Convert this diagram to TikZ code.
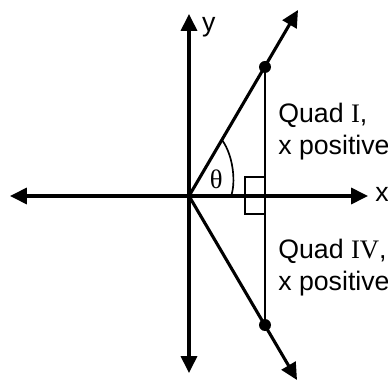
\documentclass[tikz,border=0pt]{standalone}
\usepackage{fontspec}
\setmainfont{Liberation Sans}
\newfontfamily\romfont{Liberation Serif}
\usetikzlibrary{arrows.meta}

\begin{document}
\begin{tikzpicture}[
  ax/.style={line width=2.2pt,-{Triangle[length=0.42cm,width=0.4cm]}},
  thin/.style={line width=1.2pt},
  pt/.style={circle,fill=black,minimum size=0.3cm,inner sep=0pt},
  lbl/.style={font=\fontsize{19}{22}\selectfont,inner sep=0pt,anchor=base west}]
  \useasboundingbox (-4.725,-4.625) rectangle (4.975,4.9);
  % axes
  \coordinate (O) at (0,0);
  \coordinate (xl) at (-4.475,0);
  \coordinate (xr) at (4.475,0);
  \coordinate (yt) at (0,4.55);
  \coordinate (yb) at (0,-4.425);
  \foreach \t in {xl,xr,yt,yb} \draw[ax] (O) -- (\t);
  \node[lbl] (xlab) at (4.65,-0.15) {x};
  \node[lbl] (ylab) at (0.32,4.12) {y};
  % the two rays and the points on them
  \coordinate (ut) at (2.725,4.65);
  \coordinate (lt) at (2.7,-4.6);
  \draw[ax] (O) -- (ut);
  \draw[ax] (O) -- (lt);
  \node[pt] (p1) at (1.9,3.225) {};
  \node[pt] (p2) at (1.9,-3.225) {};
  \draw[thin] (p1.center) -- (p2.center);
  % right angle box and angle mark
  \draw[thin] (1.9,0.475) -- (1.4,0.475) -- (1.4,-0.45) -- (1.9,-0.45);
  \draw[thin] (0.825,1.4) .. controls (1.12,1.0) and (1.17,0.3) .. (1.05,0);
  \node[lbl,anchor=center,font=\romfont\fontsize{19}{22}\selectfont] (th) at (0.68,0.42) {θ};
  % quadrant notes
  \node[lbl] (q1) at (2.225,1.825) {Quad {\romfont I},};
  \node[lbl] (q1x) at (2.225,1.025) {x positive};
  \node[lbl] (q4) at (2.225,-1.55) {Quad {\romfont IV},};
  \node[lbl] (q4x) at (2.225,-2.35) {x positive};
\end{tikzpicture}
\end{document}
